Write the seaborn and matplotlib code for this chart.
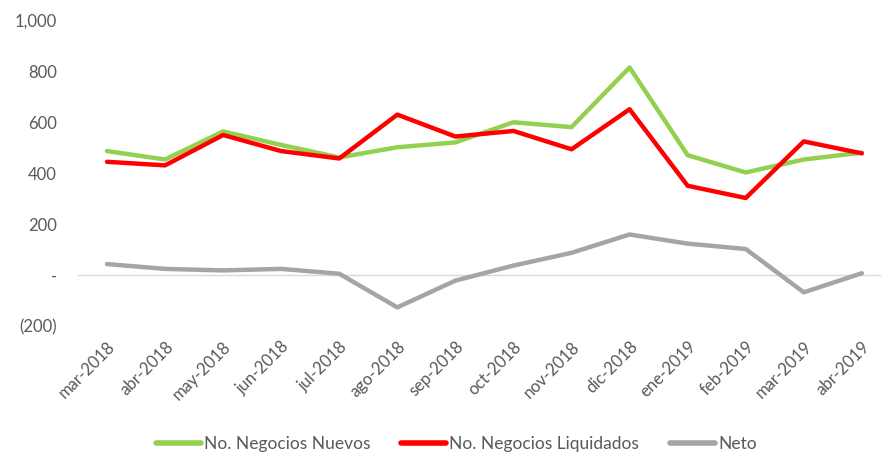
import matplotlib
matplotlib.use("Agg")
import matplotlib.pyplot as plt
import seaborn as sns
import pandas as pd
from matplotlib.ticker import FuncFormatter

months = ["mar-2018", "abr-2018", "may-2018", "jun-2018", "jul-2018", "ago-2018",
          "sep-2018", "oct-2018", "nov-2018", "dic-2018", "ene-2019", "feb-2019",
          "mar-2019", "abr-2019"]
nuevos = [486, 453, 563, 510, 461, 501, 520, 599, 580, 814, 470, 402, 453, 480]
liquidados = [444, 430, 549, 486, 457, 629, 543, 565, 493, 650, 350, 302, 524, 477]
neto = [43, 24, 18, 24, 5, -127, -22, 37, 87, 159, 123, 102, -68, 7]

series_names = ["No. Negocios Nuevos", "No. Negocios Liquidados", "Neto"]
colors = ["#92D050", "#FF0000", "#A5A5A5"]

rows = []
for name, vals in zip(series_names, [nuevos, liquidados, neto]):
    for i, (m, v) in enumerate(zip(months, vals)):
        rows.append({"idx": i, "mes": m, "serie": name, "valor": v})
df = pd.DataFrame(rows)

sns.set_theme(style="white")
plt.rcParams['font.family'] = ['Lato', 'DejaVu Sans']

fig = plt.figure(figsize=(8.81, 4.55), dpi=100)
ax = fig.add_axes([0.0885, 0.2835, 0.9115, 0.6725])

sns.lineplot(data=df, x="idx", y="valor", hue="serie", hue_order=series_names,
             palette=colors, linewidth=3.2, sort=False, ax=ax, legend=True)

ax.axhline(0, color="#D9D9D9", linewidth=1, zorder=0)
ax.set_xlim(-0.5, 13.33)
ax.set_ylim(-200, 1000)
ax.set_yticks([-200, 0, 200, 400, 600, 800, 1000])

def fmt(v, pos):
    if v == 0:
        return "-"
    if v < 0:
        return "({:,.0f})".format(-v)
    return "{:,.0f}".format(v)

ax.yaxis.set_major_formatter(FuncFormatter(fmt))
ax.set_xticks(range(len(months)))
ax.set_xticklabels(months, rotation=45, ha="right", rotation_mode="anchor")
ax.tick_params(axis="y", length=0, pad=15, labelsize=12, labelcolor="#595959")
ax.tick_params(axis="x", length=0, pad=9, labelsize=12, labelcolor="#595959")
ax.set_xlabel("")
ax.set_ylabel("")
for s in ax.spines.values():
    s.set_visible(False)

handles, labels = ax.get_legend_handles_labels()
leg = ax.legend(handles, labels, loc="center", bbox_to_anchor=(0.471, -0.385),
                ncol=3, frameon=False, fontsize=12.5, handlelength=2.6,
                columnspacing=1.8, handletextpad=0.15)
for t in leg.get_texts():
    t.set_color("#595959")
for l in leg.get_lines():
    l.set_linewidth(4)

fig.savefig("out.png", dpi=100)
